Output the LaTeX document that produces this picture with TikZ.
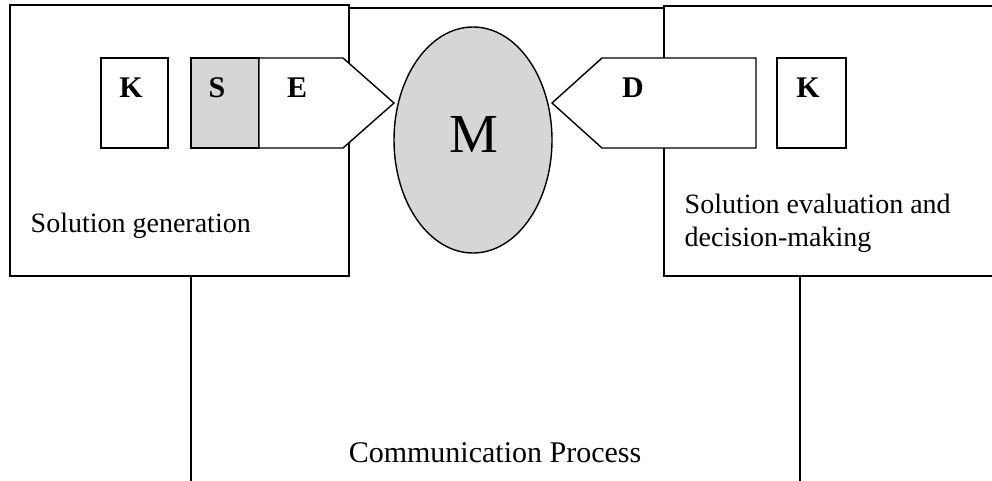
\documentclass[tikz,border=0pt]{standalone}
\usepackage{fontspec}
\setmainfont{Liberation Serif}
\usetikzlibrary{shapes.geometric}

\begin{document}
\begin{tikzpicture}[x=1pt,y=-1pt,line width=1.4pt,
    dotfill/.style={fill=black!16},
    tag/.style={font=\fontsize{30}{34}\selectfont\bfseries,inner sep=0},
    caption/.style={font=\fontsize{28}{33}\selectfont,inner sep=0,align=left}]
  \useasboundingbox (0,0) rectangle (992,480);
  \begin{scope}
    \clip (0,0) rectangle (992,480);
    % frame of the communication process, partly under the two side boxes
    \draw (191,8) rectangle (800,530);
    \draw[fill=white] (10,5) rectangle (349,276);
    \draw[fill=white] (664,6) rectangle (1010,276);

    % sender side
    \draw (101,58) rectangle (168,148);
    \draw[dotfill] (191,58) rectangle (259,148);
    \draw[fill=white] (259,58) -- (343,58) -- (394,103) -- (343,148) -- (259,148) -- cycle;
    \node[tag] (k1) at (131,88) {K};
    \node[tag] (s) at (217,88) {S};
    \node[tag] (e) at (297,88) {E};

    % message
    \node (m) at (473,140) [ellipse,draw,dotfill,inner sep=0,
      minimum width=158,minimum height=226] {};
    \node (mtext) at (474,134) [inner sep=0,font=\fontsize{55}{60}\selectfont] {M};

    % receiver side
    \draw[fill=white] (756,58) -- (602,58) -- (552,103) -- (602,148) -- (756,148) -- cycle;
    \draw (777,58) rectangle (846,148);
    \node[tag] (d) at (633,88) {D};
    \node[tag] (k2) at (808,88) {K};

    \node[caption,anchor=base west] (gen) at (30,232) {Solution generation};
    \node[caption,anchor=base west] (eval) at (684,246)
      {Solution evaluation and\\decision-making};
    \node[caption,anchor=base,font=\fontsize{30}{36}\selectfont] (comm) at (495,462)
      {Communication Process};
  \end{scope}
\end{tikzpicture}
\end{document}
